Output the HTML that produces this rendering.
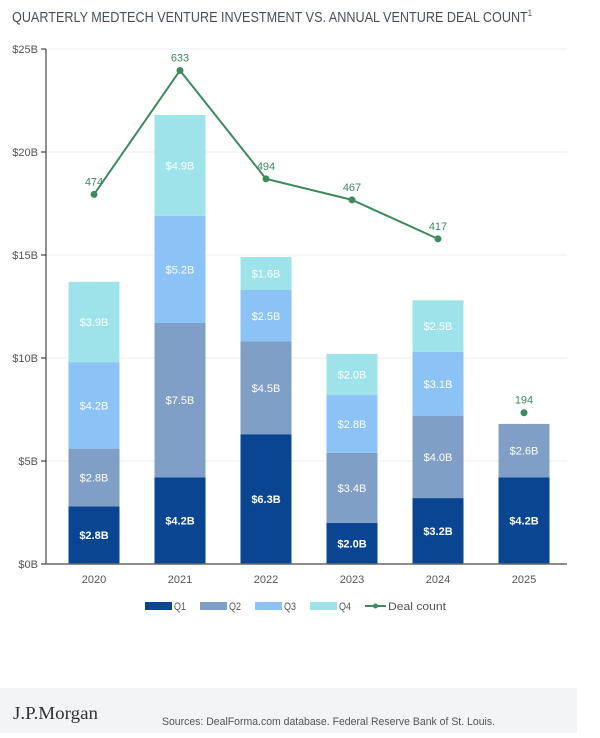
<!DOCTYPE html>
<html><head><meta charset="utf-8"><style>
body{margin:0;background:#fff;width:600px;height:733px;overflow:hidden;font-family:"Liberation Sans",sans-serif}
</style></head><body>
<svg id="chart" width="600" height="733" xmlns="http://www.w3.org/2000/svg">
<text x="12" y="22" font-size="15" fill="#47505a" textLength="520" lengthAdjust="spacingAndGlyphs">QUARTERLY MEDTECH VENTURE INVESTMENT VS. ANNUAL VENTURE DEAL COUNT<tspan font-size="9" dy="-6">1</tspan></text>
<g id="grid"></g><g id="bars"></g><g id="line"></g><g id="axes"></g>
<g font-size="11" fill="#555">
<rect x="145" y="602" width="27" height="8" fill="#0a4592"/><text x="174" y="610" textLength="12" lengthAdjust="spacingAndGlyphs">Q1</text>
<rect x="200" y="602" width="27" height="8" fill="#7f9fc6"/><text x="229" y="610" textLength="12" lengthAdjust="spacingAndGlyphs">Q2</text>
<rect x="255" y="602" width="27" height="8" fill="#8cc3f7"/><text x="284" y="610" textLength="12" lengthAdjust="spacingAndGlyphs">Q3</text>
<rect x="310" y="602" width="27" height="8" fill="#9fe3ea"/><text x="339" y="610" textLength="12" lengthAdjust="spacingAndGlyphs">Q4</text>
<line x1="365" y1="606" x2="386" y2="606" stroke="#3e8a5e" stroke-width="2"/><circle cx="375.5" cy="606" r="2.5" fill="#3e8a5e"/>
<text x="388" y="610" textLength="58" lengthAdjust="spacingAndGlyphs">Deal count</text>
</g>
<rect x="0" y="688" width="577" height="45" fill="#f3f4f6"/>
<text x="13" y="719" font-family="Liberation Serif,serif" font-size="18" fill="#333" textLength="85" lengthAdjust="spacingAndGlyphs">J.P.Morgan</text>
<text x="162" y="725" font-size="11" fill="#555" textLength="333" lengthAdjust="spacingAndGlyphs">Sources: DealForma.com database. Federal Reserve Bank of St. Louis.</text>
</svg>
<script>
const years=["2020","2021","2022","2023","2024","2025"];
const q1=[2.8,4.2,6.3,2.0,3.2,4.2];
const q2=[2.8,7.5,4.5,3.4,4.0,2.6];
const q3=[4.2,5.2,2.5,2.8,3.1,0];
const q4=[3.9,4.9,1.6,2.0,2.5,0];
const deals=[474,633,494,467,417,194];
const yTicks=[0,5,10,15,20,25];
const NS="http://www.w3.org/2000/svg";
const x0=46,x1=567,yb=564,yt=49;
const y=v=>yb-(v/25)*(yb-yt);
const yd=v=>yb-(v/660.5)*(yb-yt);
const xc=i=>94+i*86;
function mk(t,a,p){const e=document.createElementNS(NS,t);for(const k in a)e.setAttribute(k,a[k]);p.appendChild(e);return e;}
const grid=document.getElementById('grid'),axes=document.getElementById('axes'),bars=document.getElementById('bars'),line=document.getElementById('line');
yTicks.forEach(t=>{
 const g=mk('line',{x1:x0,x2:x1,y1:y(t),y2:y(t),stroke:'#e8ecef','stroke-width':1},grid);
 
 
 mk('line',{x1:x0-5,x2:x0,y1:y(t),y2:y(t),stroke:'#222'},axes);
 const l=mk('text',{x:x0-8,y:y(t)+4,'font-size':11,fill:'#555','text-anchor':'end'},axes);
 l.textContent='$'+t+'B';
 
 
});
mk('line',{x1:x0,x2:x0,y1:yt,y2:yb,stroke:'#222'},axes);
mk('line',{x1:x0,x2:x1,y1:yb,y2:yb,stroke:'#666','stroke-width':1.5},axes);
const series=[[q1,'#0a4592','q1'],[q2,'#7f9fc6','q2'],[q3,'#8cc3f7','q3'],[q4,'#9fe3ea','q4']];
years.forEach((yr,i)=>{
 let base=0;
 series.forEach(([arr,c,n])=>{
  const v=arr[i]; if(!v) return;
  const r=mk('rect',{x:xc(i)-25.5,width:51,y:y(base+v),height:y(base)-y(base+v),fill:c},bars);
  
  
  const t=mk('text',{x:xc(i),y:(y(base)+y(base+v))/2+4,'font-size':11,fill:'#fff','text-anchor':'middle','font-weight':n==='q1'?'bold':'normal'},bars);
  t.textContent='$'+v.toFixed(1)+'B';
  
  
  base+=v;
 });
 const xl=mk('text',{x:xc(i),y:583,'font-size':11,fill:'#555','text-anchor':'middle'},axes);
 xl.textContent=yr;
 
 
});
const pts=deals.slice(0,5).map((d,i)=>xc(i)+','+yd(d)).join(' ');
const pl=mk('polyline',{points:pts,fill:'none',stroke:'#3e8a5e','stroke-width':2},line);


deals.forEach((d,i)=>{
 const c=mk('circle',{cx:xc(i),cy:yd(d),r:3.5,fill:'#3e8a5e'},line);
 
 
 const t=mk('text',{x:xc(i),y:yd(d)-9,'font-size':11,fill:'#3e8a5e','text-anchor':'middle'},line);
 t.textContent=d;
 
 
});
</script>
</body></html>
